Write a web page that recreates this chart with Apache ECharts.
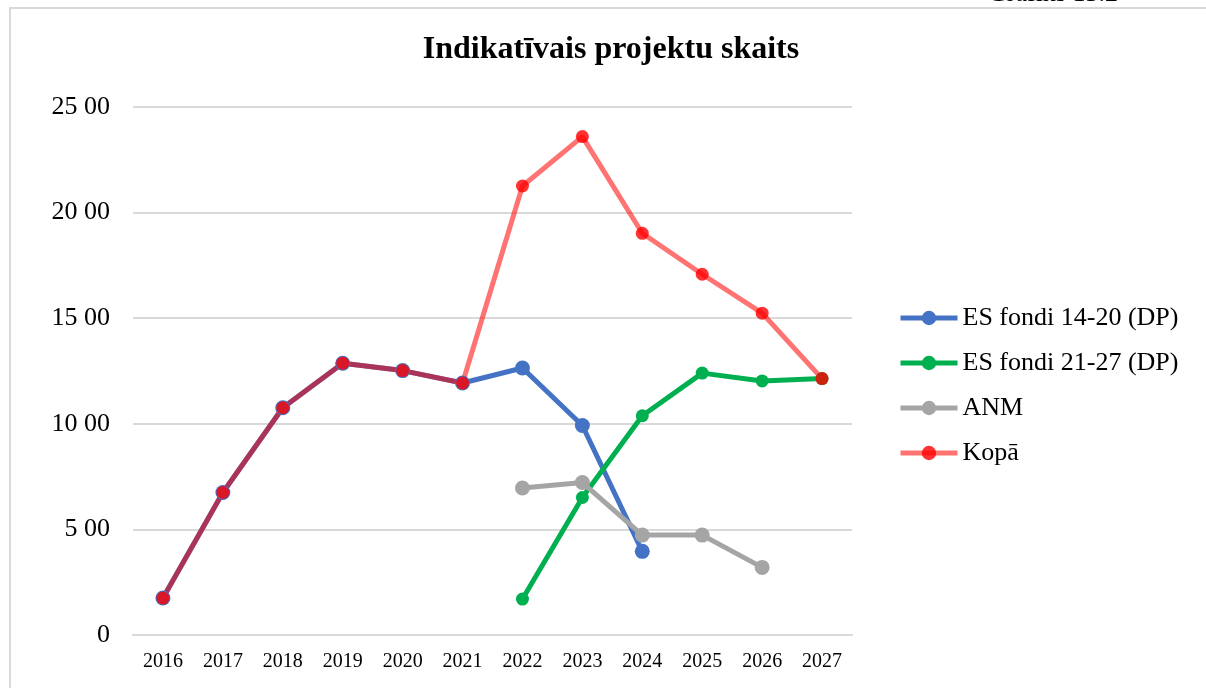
<!DOCTYPE html>
<html>
<head>
<meta charset="utf-8">
<script src="https://cdn.jsdelivr.net/npm/echarts@6/dist/echarts.min.js"></script>
<style>
html,body{margin:0;padding:0;background:#fff;}
#chart{width:1206px;height:688px;}
</style>
</head>
<body>
<div id="chart"></div>
<script>
var categories = ['2016','2017','2018','2019','2020','2021','2022','2023','2024','2025','2026','2027'];
var esFondi1420 = [175, 675, 1076, 1287, 1252, 1193, 1264, 992, 396, null, null, null];
var esFondi2127 = [null, null, null, null, null, null, 170, 651, 1038, 1240, 1203, 1214];
var anm = [null, null, null, null, null, null, 696, 722, 473, 473, 320, null];
var kopa = [175, 675, 1076, 1287, 1252, 1193, 2126, 2360, 1902, 1708, 1524, 1214];
var yTickValues = [0, 500, 1000, 1500, 2000, 2500];
var yTickLabels = ['0', '5 00', '10 00', '15 00', '20 00', '25 00'];
var seriesNames = ['ES fondi 14-20 (DP)', 'ES fondi 21-27 (DP)', 'ANM', 'Kopā'];
var titleText = 'Indikatīvais projektu skaits';
var captionText = 'Grafiks 13.2';

var FONT = '"Liberation Serif", "Times New Roman", serif';
var chart = echarts.init(document.getElementById('chart'), null, {renderer: 'canvas'});

function lineSeries(name, data, lineColor, symColor, size) {
  return {
    name: name, type: 'line', data: data,
    symbol: 'circle', symbolSize: size,
    showAllSymbol: true,
    lineStyle: {color: lineColor, width: 5},
    itemStyle: {color: symColor},
    emphasis: {disabled: true},
    animation: false
  };
}

chart.setOption({
  backgroundColor: '#ffffff',
  animation: false,
  title: {
    text: titleText, left: 606, top: 29, textAlign: 'center',
    textStyle: {fontFamily: FONT, fontWeight: 'bold', fontSize: 32, color: '#000'}
  },
  graphic: [
    {type: 'rect', shape: {x: 10, y: 8, width: 1300, height: 800}, style: {fill: 'none', stroke: '#d9d9d9', lineWidth: 2}, silent: true},
    {type: 'text', x: 988, y: -19, style: {text: captionText, font: '26px "Liberation Serif"', fill: '#000'}, silent: true}
  ],
  legend: {
    orient: 'vertical', left: 898, top: 305, padding: 0,
    itemWidth: 57, itemHeight: 18, itemGap: 19,
    data: seriesNames,
    lineStyle: {width: 5},
    textStyle: {fontFamily: FONT, fontSize: 26, color: '#000', lineHeight: 26}
  },
  grid: {left: 133, right: 354, top: 107, bottom: 53, containLabel: false},
  xAxis: {
    type: 'category', data: categories, boundaryGap: true,
    axisLine: {show: true, lineStyle: {color: '#d9d9d9', width: 2}},
    axisTick: {show: false},
    axisLabel: {fontFamily: FONT, fontSize: 20, color: '#000', margin: 17}
  },
  yAxis: {
    type: 'value', min: 0, max: 2500, interval: 500,
    axisLine: {show: false}, axisTick: {show: false},
    splitLine: {lineStyle: {color: '#d9d9d9', width: 2}},
    axisLabel: {
      fontFamily: FONT, fontSize: 26, color: '#000', margin: 23,
      formatter: function (v) { var i = yTickValues.indexOf(v); return i >= 0 ? yTickLabels[i] : ''; }
    }
  },
  series: [
    lineSeries(seriesNames[0], esFondi1420, '#4472C4', '#4472C4', 15),
    lineSeries(seriesNames[1], esFondi2127, '#00B050', '#00B050', 13),
    lineSeries(seriesNames[2], anm, '#A5A5A5', '#A5A5A5', 15),
    lineSeries(seriesNames[3], kopa, 'rgba(255,0,0,0.55)', 'rgba(255,0,0,0.8)', 13)
  ]
});
</script>
</body>
</html>
